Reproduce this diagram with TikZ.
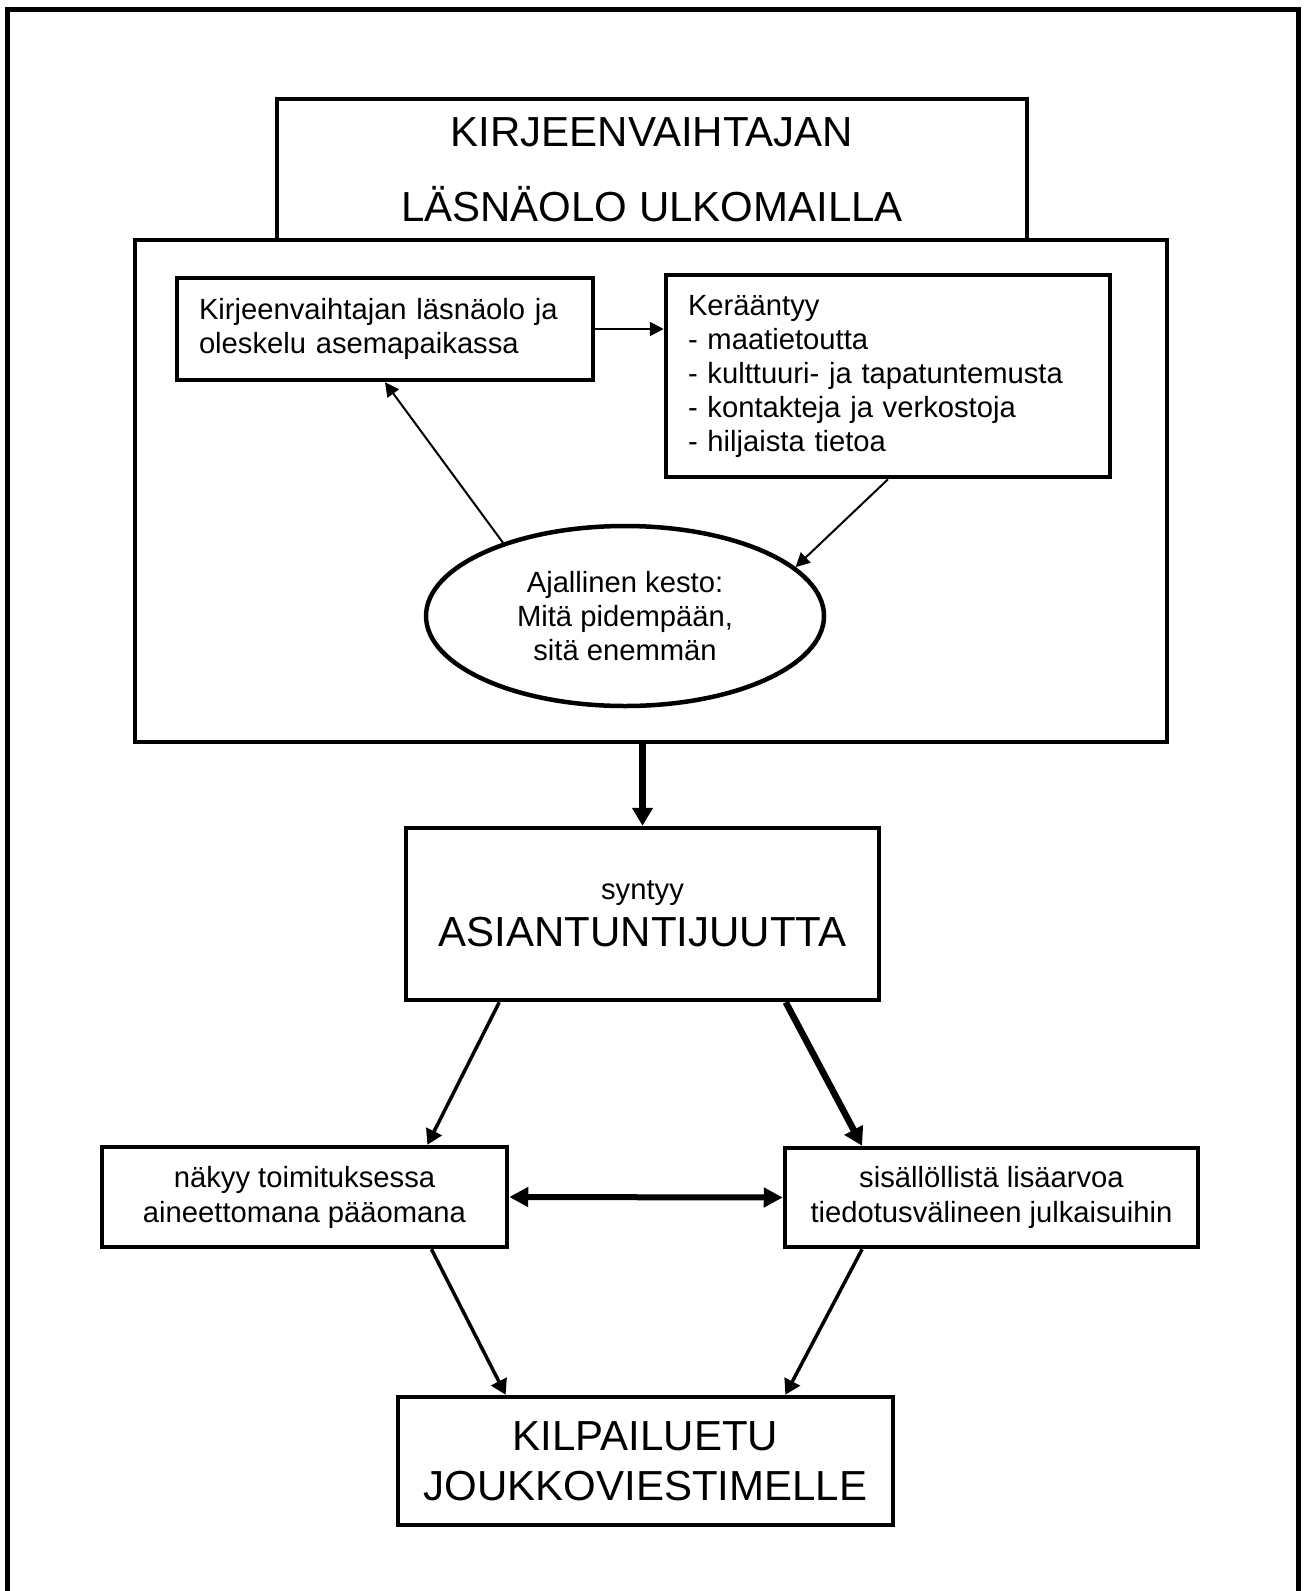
\documentclass[tikz,border=0pt]{standalone}
\usepackage{fontspec}
\setmainfont{Liberation Sans}
\usetikzlibrary{arrows.meta,shapes.geometric,calc}

\begin{document}
\begin{tikzpicture}[x=0.5pt, y=-0.5pt,
    box/.style={draw, line width=2.25pt, inner sep=0pt, align=center},
    smalltext/.style={font=\fontsize{14.6}{17}\selectfont},
    bigtext/.style={font=\fontsize{21}{25}\selectfont},
    thinarrow/.style={line width=1pt, -{Triangle[length=7pt, width=7pt]}},
    medarrow/.style={line width=1.75pt, -{Triangle[length=7.5pt, width=8.5pt]}},
    thickarrow/.style={line width=3.25pt, -{Triangle[length=9pt, width=10pt]}},
    dblarrow/.style={line width=3pt, {Triangle[length=9.5pt, width=9.5pt]}-{Triangle[length=9.5pt, width=9.5pt]}}]

    \useasboundingbox (0,0) rectangle (1303,1591);

    % Outer frame, open at the bottom
    \draw[line width=2.5pt] (7,1591) -- (7,9) -- (1298,9) -- (1298,1591);

    % Presence abroad
    \node[box, font=\fontsize{21}{37.5}\selectfont, minimum width=375pt, minimum height=70.5pt] (presence) at (652,169.5) {KIRJEENVAIHTAJAN\\LÄSNÄOLO ULKOMAILLA};
    \node[box, minimum width=516pt, minimum height=251pt] (abroad) at (651,491) {};

    % Cycle inside the big box
    \node[box, smalltext, align=left, text width=186pt, inner xsep=11pt, minimum height=51pt] (stay) at (385,329) {Kirjeenvaihtajan läsnäolo ja\\oleskelu asemapaikassa};
    \node[box, smalltext, align=left, text width=200pt, inner xsep=11pt, minimum height=101pt] (gather) at (888,376) {Kerääntyy\\- maatietoutta\\- kulttuuri- ja tapatuntemusta\\- kontakteja ja verkostoja\\- hiljaista tietoa};
    \node[box, ellipse, smalltext, minimum width=199pt, minimum height=90pt] (duration) at (625,616) {Ajallinen kesto:\\Mitä pidempään,\\sitä enemmän};

    \draw[thinarrow] (stay.east) -- (stay.east -| gather.west);
    \draw[thinarrow] (gather.south) -- (duration.16);
    \draw[thinarrow] (duration.149) -- (stay.south);

    % Expertise
    \node[box, font=\fontsize{21}{23.5}\selectfont, minimum width=236.5pt, minimum height=86pt] (expertise) at (642.5,914) {{\fontsize{14.6}{17}\selectfont syntyy}\\ASIANTUNTIJUUTTA};
    \draw[thickarrow] (abroad.south -| expertise.north) -- (expertise.north);

    % Two results
    \node[box, font=\fontsize{14.6}{17.5}\selectfont, minimum width=202.5pt, minimum height=50pt] (capital) at (304.5,1197) {näkyy toimituksessa\\aineettomana pääomana};
    \node[box, font=\fontsize{14.6}{17.5}\selectfont, minimum width=206.5pt, minimum height=49.5pt] (content) at (991.5,1197.5) {sisällöllistä lisäarvoa\\tiedotusvälineen julkaisuihin};

    \draw[medarrow] ($(expertise.south west)!0.2!(expertise.south east)$) -- ($(capital.north west)!0.8!(capital.north east)$);
    \draw[thickarrow] ($(expertise.south west)!0.8!(expertise.south east)$) -- ($(content.north west)!0.19!(content.north east)$);
    \draw[dblarrow] (capital.east) -- (content.west);

    % Competitive edge
    \node[box, bigtext, minimum width=247.5pt, minimum height=64pt] (edge) at (645.5,1461) {KILPAILUETU\\JOUKKOVIESTIMELLE};

    \draw[medarrow] ($(capital.south west)!0.81!(capital.south east)$) -- ($(edge.north west)!0.22!(edge.north east)$);
    \draw[medarrow] ($(content.south west)!0.19!(content.south east)$) -- ($(edge.north west)!0.78!(edge.north east)$);
\end{tikzpicture}
\end{document}
